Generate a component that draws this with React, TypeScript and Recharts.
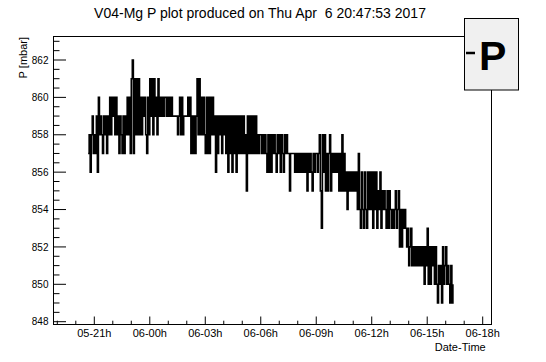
import { LineChart, Line, XAxis, YAxis } from "recharts";

/* pressure readings, one every 1/18 h, hours counted from 06-00h */
const STEP = 1 / 18;
const startHours = [-10 / 3, 0, 3, 6, 9, 12, 15];

const p0520 = [
  857, 858, 856, 858, 859, 857, 858, 857, 859, 856,
  860, 858, 859, 858, 857, 859, 858, 859, 857, 859,
  858, 860, 858, 860, 859, 860, 858, 860, 858, 859,
  857, 859, 858, 857, 859, 857, 859, 858, 860, 858,
  860, 857, 861, 862, 857, 861, 858, 861, 858, 861,
  858, 860, 858, 860, 859, 860, 858, 857, 860, 858,
];
const p0600 = [
  861, 859, 861, 858, 861, 859, 860, 858, 861, 859,
  860, 859, 860, 859, 860,
  860, 859, 860, 859, 860, 859, 860, 859, 859, 859,
  859, 859, 858, 859,
  860, 858, 860, 858, 859, 859, 859, 859, 860, 859, 860,
  857, 859, 857, 859, 857, 859, 861, 858, 861, 858, 860, 858, 860, 858,
];
const p0603 = [
  857, 860, 857, 860, 857, 860, 858, 860, 858, 859,
  856, 859, 857, 859, 858, 859, 857, 859, 858, 859,
  857, 859, 856, 859, 857, 859, 856, 859, 857, 859,
  856, 859, 857, 859, 857, 859, 857, 859, 857, 858,
  855, 859, 857, 859, 857, 859, 857, 859, 857, 859,
  857, 858, 857, 858,
];
const p0606 = [
  858, 857, 858, 857, 858, 857, 856, 858, 856, 858,
  856, 858, 857, 858, 857, 856, 858, 857, 858, 856,
  858, 857, 856, 858, 857, 858, 857, 857, 855, 857,
  857, 857, 857, 856, 857, 856, 857, 856, 857, 856,
  857, 856, 857, 856, 857, 855, 857, 856, 857, 856,
  855, 857, 856, 857,
];
const p0609 = [
  857, 856, 857, 858, 855, 853, 858, 856, 858, 855,
  857, 855, 857, 858, 855, 857, 856, 857, 856, 857,
  856, 857, 855, 857, 855, 858, 855, 857, 855, 856,
  854, 856, 855, 856, 855, 856, 855, 856, 855, 856,
  854, 857, 854, 853, 856, 854, 853, 856, 854, 853,
  856, 854, 856, 854,
];
const p0612 = [
  856, 853, 856, 854, 856, 853, 855, 854, 856, 853,
  855, 854, 855, 854, 853, 855, 853, 855, 854, 853,
  854, 853, 854, 855, 853, 854, 855, 852, 854, 852,
  854, 853, 854, 853, 852, 853, 851, 852, 853, 851,
  852, 851, 852, 851, 852, 851, 852, 851, 852, 851,
  852, 850, 852, 851,
];
const p0615 = [
  853, 850, 852, 850, 852, 851, 852, 850, 852, 850,
  849, 851, 850, 851, 849, 852, 850, 851, 852, 850,
  851, 850, 849, 851, 849, 850,
];

const blocks = [p0520, p0600, p0603, p0606, p0609, p0612, p0615];

const data = blocks.flatMap((vals, b) =>
  vals.map((p, i) => ({ t: startHours[b] + i * STEP, p }))
);

/* axes */
const xMinor = [-5, -4, -3, -2, -1, 0, 1, 2, 3, 4, 5, 6, 7, 8, 9, 10, 11, 12, 13, 14, 15, 16, 17, 18];
const xMajor = [-3, 0, 3, 6, 9, 12, 15, 18];
const xLabels = ["05-21h", "06-00h", "06-03h", "06-06h", "06-09h", "06-12h", "06-15h", "06-18h"];
const yMinor = [
  848, 848.5, 849, 849.5, 850, 850.5, 851, 851.5, 852, 852.5, 853, 853.5, 854, 854.5, 855, 855.5,
  856, 856.5, 857, 857.5, 858, 858.5, 859, 859.5, 860, 860.5, 861, 861.5, 862, 862.5, 863,
];
const yMajor = [848, 850, 852, 854, 856, 858, 860, 862];

const FONT = "'Liberation Sans', Arial, Helvetica, sans-serif";

function XTick({ x, y, payload }: any) {
  const i = xMajor.indexOf(payload.value);
  const len = i >= 0 ? 8.5 : 4.3;
  return (
    <g>
      <line x1={x} x2={x} y1={y} y2={y - len} stroke="#000" />
      {i >= 0 && (
        <text x={x} y={y + 12} textAnchor="middle" fontSize={11} fontFamily={FONT} fill="#000">
          {xLabels[i]}
        </text>
      )}
    </g>
  );
}

function YTick({ x, y, payload }: any) {
  const major = yMajor.includes(payload.value);
  const len = major ? 13 : 6.5;
  return (
    <g>
      <line x1={x} x2={x + len} y1={y} y2={y} stroke="#000" />
      {major && (
        <text x={x - 4.5} y={y} dy="0.36em" textAnchor="end" fontSize={10} fontFamily={FONT} fill="#000">
          {payload.value}
        </text>
      )}
    </g>
  );
}

export default function App() {
  return (
    <div style={{ position: "absolute", left: 0, top: 0, width: 546, height: 362, background: "#fff" }}>
      <LineChart
        width={546}
        height={362}
        data={data}
        margin={{ top: 36, right: 54, bottom: 0, left: 0 }}
      >
        <XAxis
          dataKey="t"
          type="number"
          domain={[-5.233, 18.503]}
          ticks={xMinor}
          interval={0}
          tick={<XTick />}
          tickLine={false}
          axisLine={false}
          tickSize={0}
          tickMargin={0}
          height={37}
          allowDataOverflow
        />
        <YAxis
          type="number"
          domain={[847.823, 863.284]}
          ticks={yMinor}
          interval={0}
          tick={<YTick />}
          tickLine={false}
          axisLine={false}
          tickSize={0}
          tickMargin={0}
          width={53}
          allowDataOverflow
        />
        <Line
          dataKey="p"
          type="stepAfter"
          stroke="#000"
          strokeWidth={1.6}
          dot={false}
          isAnimationActive={false}
        />
      </LineChart>
      <svg
        width={546}
        height={362}
        style={{ position: "absolute", left: 0, top: 0, pointerEvents: "none" }}
      >
        <rect x={53.5} y={36.5} width={438} height={288} fill="none" stroke="#000" />
        <text x={260} y={18.3} textAnchor="middle" fontSize={14} fontFamily={FONT} style={{ whiteSpace: "pre" }}>
          {"V04-Mg P plot produced on Thu Apr  6 20:47:53 2017"}
        </text>
        <text
          transform="translate(27,37) rotate(-90)"
          textAnchor="end"
          fontSize={11}
          fontFamily={FONT}
        >
          P [mbar]
        </text>
        <text x={485.7} y={351} textAnchor="end" fontSize={11} fontFamily={FONT}>
          Date-Time
        </text>
        <rect x={464.5} y={18.5} width={54} height={71.5} fill="#f0f0f0" stroke="#000" />
        <line x1={466} x2={475} y1={53} y2={53} stroke="#000" strokeWidth={2.5} />
        <text x={479} y={70} fontSize={41} fontWeight="bold" fontFamily={FONT}>
          P
        </text>
      </svg>
    </div>
  );
}
